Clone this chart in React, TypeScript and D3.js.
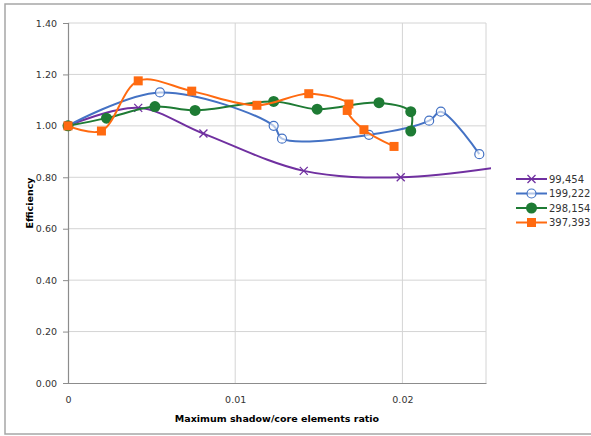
import React, {useEffect, useRef} from 'react';
import * as d3 from 'd3';

// Series data: [ratio, efficiency]
const series99454: [number, number][] = [
    [0, 1.0], [0.0042, 1.07], [0.0081, 0.97], [0.0141, 0.825], [0.0199, 0.80], [0.0258, 0.84]
];
const series199222: [number, number][] = [
    [0, 1.0], [0.0055, 1.13], [0.0123, 1.0], [0.0128, 0.95], [0.018, 0.965],
    [0.0216, 1.02], [0.0223, 1.055], [0.0246, 0.89]
];
const series298154: [number, number][] = [
    [0, 1.0], [0.0023, 1.03], [0.0052, 1.075], [0.0076, 1.06], [0.0123, 1.095],
    [0.0149, 1.065], [0.0186, 1.09], [0.0205, 1.055], [0.0205, 0.98]
];
const series397393: [number, number][] = [
    [0, 1.0], [0.002, 0.98], [0.0042, 1.175], [0.0074, 1.135], [0.0113, 1.08],
    [0.0144, 1.125], [0.0168, 1.085], [0.0167, 1.06], [0.0177, 0.985], [0.0195, 0.92]
];

const seriesNames = ['99,454', '199,222', '298,154', '397,393'];
const seriesColors = ['#7030a0', '#4472c4', '#1e7b34', '#ff6a10'];
const seriesMarkers = ['x', 'open', 'dot', 'square'];
const allSeries = [series99454, series199222, series298154, series397393];

const yTicks = [0, 0.2, 0.4, 0.6, 0.8, 1.0, 1.2, 1.4];
const xTicks = [0, 0.01, 0.02];

export default function App() {
    const svgRef = useRef<SVGSVGElement>(null);

    const width = 591, height = 436;
    const plot = {left: 68, right: 486, top: 23, bottom: 383};

    useEffect(() => {
        const svg = d3.select(svgRef.current);
        svg.selectAll('*').remove();

        const font = 'DejaVu Sans, Verdana, sans-serif';

        const x = d3.scaleLinear().domain([0, 0.025]).range([plot.left, plot.right]);
        const y = d3.scaleLinear().domain([0, 1.4]).range([plot.bottom, plot.top]);

        // outer chart border
        svg.append('rect')
            .attr('x', 5).attr('y', 4).attr('width', width + 10).attr('height', 430)
            .attr('fill', 'white').attr('stroke', '#a6a6a6').attr('stroke-width', 1.5);

        // gridlines
        svg.append('g').selectAll('line').data(yTicks.slice(1)).enter().append('line')
            .attr('x1', plot.left).attr('x2', plot.right)
            .attr('y1', d => y(d)).attr('y2', d => y(d))
            .attr('stroke', '#d4d4d4').attr('stroke-width', 1);
        svg.append('g').selectAll('line').data(xTicks.slice(1).concat([0.025])).enter().append('line')
            .attr('x1', d => x(d)).attr('x2', d => x(d))
            .attr('y1', plot.top).attr('y2', plot.bottom)
            .attr('stroke', '#d4d4d4').attr('stroke-width', 1);

        // axes
        const yAxis = d3.axisLeft(y).tickValues(yTicks).tickFormat(d3.format('.2f')).tickSize(5);
        const yg = svg.append('g').attr('transform', `translate(${plot.left},0)`).call(yAxis);
        const xAxis = d3.axisBottom(x).tickValues(xTicks).tickSize(0).tickPadding(13);
        const xg = svg.append('g').attr('transform', `translate(0,${plot.bottom})`).call(xAxis);
        [yg, xg].forEach(g => {
            g.select('.domain').attr('stroke', '#8c8c8c').attr('stroke-width', 1.2);
            g.selectAll('.tick line').attr('stroke', '#8c8c8c');
            g.selectAll('.tick text').attr('fill', '#333').style('font-family', font).style('font-size', '9.5px');
        });
        xg.selectAll('.tick text').text(d => d === 0 ? '0' : d3.format('.2~f')(d as number));
        yg.selectAll('.tick text').attr('dx', '-3');

        // axis titles
        svg.append('text')
            .attr('transform', `translate(33,${(plot.top + plot.bottom) / 2}) rotate(-90)`)
            .attr('text-anchor', 'middle')
            .style('font-family', font).style('font-size', '9.5px').style('font-weight', 'bold')
            .text('Efficiency');
        svg.append('text')
            .attr('x', 277).attr('y', 422)
            .attr('text-anchor', 'middle')
            .style('font-family', font).style('font-size', '9.5px').style('font-weight', 'bold')
            .text('Maximum shadow/core elements ratio');

        svg.append('clipPath').attr('id', 'plotClip').append('rect')
            .attr('x', 0).attr('y', 0).attr('width', 491).attr('height', height);

        const line = d3.line<[number, number]>()
            .x(d => x(d[0]))
            .y(d => y(d[1]))
            .curve(d3.curveCatmullRom.alpha(0.5));

        function drawMarker(g: any, kind: string, cx: number, cy: number, color: string) {
            if (kind === 'x') {
                g.append('path')
                    .attr('d', `M${cx - 4},${cy - 4}L${cx + 4},${cy + 4}M${cx - 4},${cy + 4}L${cx + 4},${cy - 4}`)
                    .attr('stroke', color).attr('stroke-width', 1.3).attr('fill', 'none');
            } else if (kind === 'open') {
                g.append('circle').attr('cx', cx).attr('cy', cy).attr('r', 4.5)
                    .attr('fill', 'white').attr('fill-opacity', 0.6).attr('stroke', color).attr('stroke-width', 1.2);
            } else if (kind === 'dot') {
                g.append('circle').attr('cx', cx).attr('cy', cy).attr('r', 5.5).attr('fill', color);
            } else {
                g.append('rect').attr('x', cx - 4.5).attr('y', cy - 4.5).attr('width', 9).attr('height', 9).attr('fill', color);
            }
        }

        allSeries.forEach((data, i) => {
            const g = svg.append('g').attr('clip-path', 'url(#plotClip)');
            g.append('path')
                .datum(data)
                .attr('d', line)
                .attr('fill', 'none')
                .attr('stroke', seriesColors[i])
                .attr('stroke-width', 2);
            data.forEach(d => drawMarker(g, seriesMarkers[i], x(d[0]), y(d[1]), seriesColors[i]));
        });

        // legend
        const legendY = [179, 193.5, 208, 222.5];
        seriesNames.forEach((name, i) => {
            const g = svg.append('g');
            g.append('line').attr('x1', 516).attr('x2', 547)
                .attr('y1', legendY[i]).attr('y2', legendY[i])
                .attr('stroke', seriesColors[i]).attr('stroke-width', 2);
            drawMarker(g, seriesMarkers[i], 531.5, legendY[i], seriesColors[i]);
            g.append('text').attr('x', 549).attr('y', legendY[i]).attr('dy', '0.35em')
                .style('font-family', font).style('font-size', '10px').attr('fill', '#333')
                .text(name);
        });
    });

    return (
        <div style={{position: 'absolute', left: 0, top: 0}}>
            <svg ref={svgRef} width={width} height={height}/>
        </div>
    );
}
